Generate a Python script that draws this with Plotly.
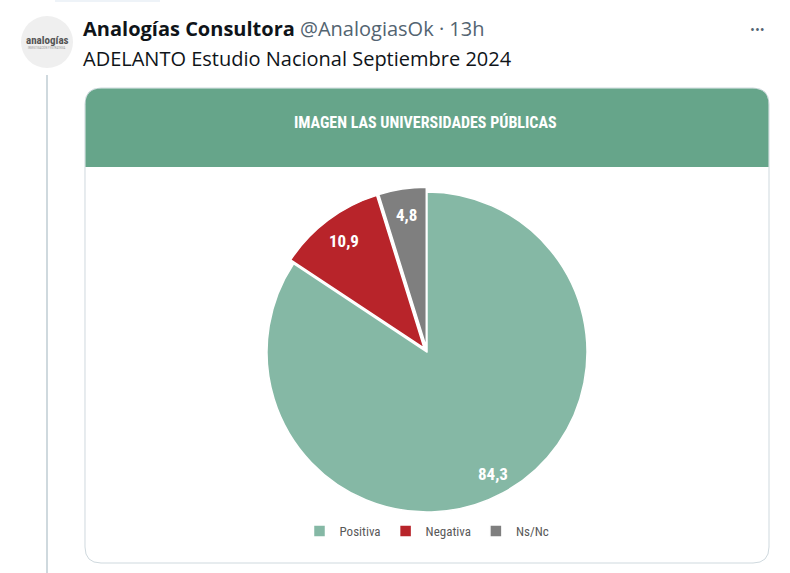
import math
import plotly.graph_objects as go

W, H = 790, 573

# ---- data ----
categories = ["Positiva", "Negativa", "Ns/Nc"]
values = [84.3, 10.9, 4.8]
slice_colors = ["#85b8a5", "#b8242a", "#7f7f7f"]
slice_pull = [0, 0.03, 0.03]

chart_title = "IMAGEN LAS UNIVERSIDADES PÚBLICAS"
tweet_name = "Analogías Consultora"
tweet_handle = "@AnalogiasOk · 13h"
tweet_text = "ADELANTO Estudio Nacional Septiembre 2024"

NARROW = "Roboto Condensed, Liberation Sans Narrow, DejaVu Sans Condensed, sans-serif"
TW = "Open Sans, Roboto, sans-serif"


def px(x):
    return x / W


def py(y):
    return 1 - y / H


def rounded_path(x0, y0, x1, y1, r, top=True, bottom=True):
    def P(x, y):
        return f"{px(x):.5f},{py(y):.5f}"
    d = []
    if top:
        d.append(f"M {P(x0, y0 + r)}")
        d.append(f"Q {P(x0, y0)} {P(x0 + r, y0)}")
        d.append(f"L {P(x1 - r, y0)}")
        d.append(f"Q {P(x1, y0)} {P(x1, y0 + r)}")
    else:
        d.append(f"M {P(x0, y0)}")
        d.append(f"L {P(x1, y0)}")
    if bottom:
        d.append(f"L {P(x1, y1 - r)}")
        d.append(f"Q {P(x1, y1)} {P(x1 - r, y1)}")
        d.append(f"L {P(x0 + r, y1)}")
        d.append(f"Q {P(x0, y1)} {P(x0, y1 - r)}")
    else:
        d.append(f"L {P(x1, y1)}")
        d.append(f"L {P(x0, y1)}")
    d.append("Z")
    return " ".join(d)


# pie geometry (pixels)
cx, cy, R = 427, 352, 160
half = R * (1 + max(slice_pull))

fig = go.Figure()
fig.add_trace(go.Pie(
    labels=categories,
    values=values,
    sort=False,
    direction="clockwise",
    rotation=0,
    pull=slice_pull,
    marker=dict(colors=slice_colors, line=dict(color="white", width=1.5)),
    textinfo="none",
    hoverinfo="skip",
    domain=dict(x=[px(cx - half), px(cx + half)], y=[py(cy + half), py(cy - half)]),
))

shapes = []
# faint previous-tweet remnant at the very top
shapes.append(dict(type="rect", xref="paper", yref="paper",
                   x0=px(55), x1=px(160), y0=py(2), y1=py(0),
                   fillcolor="#eef3f8", line=dict(width=0), layer="below"))
# thread line
shapes.append(dict(type="line", xref="paper", yref="paper",
                   x0=px(47), x1=px(47), y0=py(75), y1=py(573),
                   line=dict(color="#cfd9de", width=2), layer="below"))
# avatar
shapes.append(dict(type="circle", xref="paper", yref="paper",
                   x0=px(21), x1=px(73), y0=py(68), y1=py(16),
                   fillcolor="#efefef", line=dict(width=0), layer="below"))
# card
shapes.append(dict(type="path", xref="paper", yref="paper",
                   path=rounded_path(85, 88, 769, 563, 16),
                   fillcolor="white", line=dict(color="#cfd9de", width=1), layer="below"))
# header
shapes.append(dict(type="path", xref="paper", yref="paper",
                   path=rounded_path(85.5, 88.5, 768.5, 167, 16, top=True, bottom=False),
                   fillcolor="#66a58a", line=dict(width=0), layer="below"))

annotations = [
    dict(xref="paper", yref="paper", x=px(81), y=py(29), xanchor="left", yanchor="middle",
         text=f"<b>{tweet_name}</b> <span style='color:#536471'>{tweet_handle}</span>",
         showarrow=False, font=dict(family=TW, size=20, color="#0f1419")),
    dict(xref="paper", yref="paper", x=px(81), y=py(58), xanchor="left", yanchor="middle",
         text=tweet_text, showarrow=False, font=dict(family=TW, size=20, color="#0f1419")),
    dict(xref="paper", yref="paper", x=px(757), y=py(29), xanchor="center", yanchor="middle",
         text="•••", showarrow=False, font=dict(family=TW, size=13, color="#536471")),
    dict(xref="paper", yref="paper", x=px(47), y=py(40), xanchor="center", yanchor="middle",
         text="<b>analogías</b>", showarrow=False, font=dict(family=NARROW, size=11, color="#555555")),
    dict(xref="paper", yref="paper", x=px(47), y=py(48), xanchor="center", yanchor="middle",
         text="INVESTIGACIÓN Y ESTRATEGIA", showarrow=False, font=dict(family=NARROW, size=3, color="#999999")),
    dict(xref="paper", yref="paper", x=px(425), y=py(123), xanchor="center", yanchor="middle",
         text=f"<b>{chart_title}</b>", showarrow=False, font=dict(family=NARROW, size=16, color="white")),
]

# data labels inside slices, placed along each slice's mid-angle
total = sum(values)
cum = 0.0
label_r = R - 21
for v in values:
    theta = math.radians(360.0 * (cum + v / 2) / total)
    cum += v
    lx = cx + label_r * math.sin(theta)
    ly = cy - label_r * math.cos(theta)
    annotations.append(dict(
        xref="paper", yref="paper", x=px(lx), y=py(ly), xanchor="center", yanchor="middle",
        text=f"<b>{v:.1f}</b>".replace(".", ","), showarrow=False,
        font=dict(family=NARROW, size=17, color="white")))

fig.update_layout(
    width=W, height=H,
    margin=dict(l=0, r=0, t=0, b=0),
    paper_bgcolor="white",
    plot_bgcolor="white",
    separators=",.",
    shapes=shapes,
    annotations=annotations,
    showlegend=True,
    legend=dict(orientation="h", x=px(427), xanchor="center", y=py(531), yanchor="middle",
                font=dict(family=NARROW, size=13, color="#595959"),
                itemwidth=30, bgcolor="rgba(0,0,0,0)"),
)

fig.write_html("out.html", config={"displayModeBar": False},
               post_script="document.body.style.margin='0';document.body.style.overflow='hidden';")
